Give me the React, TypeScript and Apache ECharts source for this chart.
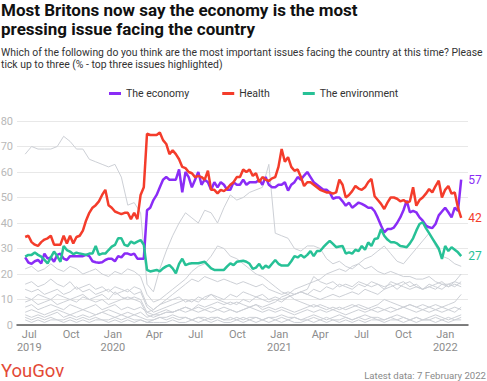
import React, { useEffect, useRef } from "react";
import * as echarts from "echarts";

// ---- Data (weekly readings, first reading 22 Jun 2019, last 7 Feb 2022) ----
const ECONOMY = [
  26.5, 24.5, 24, 25, 25.5, 24.2, 28, 26, 26.5, 24.8,
  27.5, 28, 26, 25.5, 27, 27, 27, 27, 27, 27.5,
  27, 25, 24.6, 24.4, 24.6, 25.5, 26, 26, 25, 27,
  26.5, 28, 28, 27.5, 28, 26, 26, 26, 45, 46,
  49, 51, 54, 57, 58, 57, 57, 57, 61, 52,
  60, 58, 54, 57, 60, 55, 57, 56, 53, 56,
  54, 56, 55, 53, 53, 56, 55, 55, 57, 55,
  56, 56, 56, 57, 55, 58, 55, 54, 54, 55,
  55, 56, 52.7, 55, 56, 58, 57, 58.6, 60, 58,
  56, 55, 54, 53, 53, 52, 49.5, 50, 50, 48.5,
  46.8, 48, 46, 47, 48, 47.5, 46.8, 46, 46, 44.6,
  42, 39, 36.3, 37.6, 37.6, 38.2, 40, 42.2, 45, 48.8,
  44.2, 44.8, 44.2, 42.2, 40.9, 39, 38.3, 38, 39.6, 43,
  44.5, 46, 44.2, 42.2, 46, 44.8, 57,
];
const HEALTH = [
  34.5, 35, 32.5, 31.5, 31, 32.5, 33.5, 34, 35, 31.5,
  31.5, 31.5, 35, 32, 35, 32, 34.5, 35, 37, 41,
  44, 46, 47, 48.5, 51, 53, 47, 46, 44.5, 44,
  43.5, 44, 44, 41.5, 44, 41.5, 51, 54, 75, 74.5,
  74.5, 74.5, 75.5, 72.5, 71, 67, 68.5, 67, 65, 62,
  61.5, 60, 59.5, 58, 58.5, 58, 57, 60.5, 53, 53,
  51.6, 53, 52.5, 53.5, 55, 56, 58, 58, 61, 60,
  61, 58.5, 59.5, 56, 58, 57, 56.5, 57.5, 58, 62,
  69, 64, 65.8, 62, 60.5, 61, 58, 54.5, 56, 56,
  55, 54, 53, 52.5, 52, 52, 51.5, 52, 57, 55,
  50, 51, 52.5, 54.5, 53.5, 53, 54, 56, 57.3, 50.5,
  49, 47.5, 45.5, 48, 50, 50, 49.5, 48.5, 49, 48,
  48.5, 54, 46.8, 49, 50, 51.5, 53.3, 52, 54.5, 56.6,
  50, 53, 54.5, 51.5, 52, 46, 42,
];
const ENVIRONMENT = [
  26.8, 27.5, 27.5, 28.4, 27.5, 26.8, 25.5, 24.2, 26.5, 28.8,
  27, 24.8, 31, 29.4, 28.8, 27.8, 28.4, 28, 27.8, 27.5,
  28, 28, 31, 27.5, 28, 28, 29.4, 30.7, 31.4, 34,
  34, 31.4, 31, 32.7, 32, 32.7, 33.3, 31.5, 21.6, 21,
  21.3, 21.6, 21, 22.2, 23, 23.5, 22.2, 20.3, 24, 26,
  23.5, 24, 24.2, 24.2, 24.2, 24.5, 24.8, 23.5, 22.2, 21.6,
  21.6, 21.6, 21.6, 23, 24.2, 23.5, 24.8, 25, 25.2, 24.8,
  24, 22, 22.5, 24, 22, 23.3, 22.5, 24, 25.5, 24,
  23.3, 23.3, 23.3, 25, 27, 26.5, 27.5, 26.5, 27.5, 29,
  27, 29, 29, 30.5, 31.8, 33, 31.8, 30.5, 30.8, 31,
  28, 28.5, 28, 29.5, 29, 31, 29.5, 32.4, 31, 33.7,
  34, 37.6, 35, 33.5, 32.5, 32.5, 32, 31, 30.8, 30.5,
  32, 34, 37, 39.6, 40.3, 38, 36, 34, 32, 30,
  25.9, 31, 29, 30.5, 29.5, 28.5, 27,
];

// Other issues (fortnightly readings)
const BREXIT = [67, 70, 69, 69, 69, 70, 74, 72, 69, 69, 65, 64, 63, 62, 63, 58, 47, 48, 44, 16, 13, 22, 29, 35, 40, 44, 42, 40, 45, 44, 40, 46, 51, 49, 50, 52, 53, 54, 63, 36, 35, 34, 30, 29, 31, 31, 30, 26, 24, 25, 23, 22, 24, 22, 23, 21, 20, 21, 20, 19, 19, 18, 18, 19, 17, 16, 16, 17, 16];
const IMMIGRATION = [22, 23, 21, 22, 24, 22, 21, 23, 22, 20, 21, 22, 20, 19, 21, 20, 22, 21, 19, 12, 9, 10, 12, 14, 16, 18, 21, 23, 24, 27, 31, 30, 27, 26, 24, 22, 20, 19, 17, 15, 13, 12, 14, 15, 16, 17, 18, 20, 21, 22, 21, 23, 24, 26, 27, 29, 31, 28, 25, 24, 27, 30, 33, 36, 31, 27, 26, 24, 23];
const CRIME = [16, 17, 15, 16, 18, 16, 15, 17, 14, 15, 16, 14, 15, 13, 15, 14, 13, 15, 14, 8, 6, 8, 10, 12, 14, 16, 18, 17, 19, 18, 17, 18, 17, 16, 17, 16, 15, 16, 14, 13, 12, 13, 12, 13, 14, 19, 17, 16, 17, 15, 16, 15, 17, 16, 15, 16, 15, 16, 14, 16, 17, 15, 14, 16, 15, 14, 16, 15, 17];
const HOUSING = [14, 13, 14, 12, 13, 14, 12, 13, 15, 13, 14, 12, 13, 14, 12, 13, 14, 12, 13, 7, 5, 6, 7, 8, 9, 10, 9, 11, 10, 12, 11, 10, 12, 11, 13, 12, 11, 12, 10, 11, 10, 11, 12, 13, 12, 14, 13, 15, 14, 16, 15, 14, 16, 15, 17, 16, 14, 15, 16, 17, 15, 16, 14, 15, 16, 17, 15, 16, 15];
const TAX = [9, 10, 8, 9, 10, 8, 9, 10, 9, 11, 10, 9, 10, 8, 9, 10, 11, 10, 9, 4, 3, 4, 5, 5, 6, 7, 6, 8, 7, 8, 9, 8, 9, 8, 10, 9, 11, 10, 9, 10, 9, 11, 12, 13, 12, 11, 10, 11, 12, 11, 12, 13, 12, 14, 13, 12, 14, 17, 16, 15, 14, 15, 14, 15, 14, 16, 15, 17, 20];
const DEFENCE = [11, 10, 12, 11, 10, 12, 11, 10, 11, 12, 10, 11, 12, 10, 13, 11, 10, 11, 10, 5, 4, 4, 5, 5, 6, 5, 6, 7, 6, 5, 6, 7, 6, 5, 6, 7, 8, 6, 7, 6, 7, 6, 5, 6, 7, 8, 7, 6, 7, 6, 7, 8, 7, 6, 7, 8, 10, 9, 8, 7, 8, 7, 8, 7, 8, 7, 8, 9, 12];
const EDUCATION = [7, 8, 6, 7, 8, 7, 6, 8, 7, 6, 7, 8, 6, 7, 8, 6, 7, 6, 7, 5, 6, 8, 9, 10, 11, 9, 10, 9, 11, 12, 10, 9, 8, 9, 8, 7, 8, 7, 8, 9, 11, 12, 10, 9, 8, 7, 8, 7, 6, 7, 6, 7, 8, 7, 6, 7, 6, 7, 6, 7, 6, 5, 6, 7, 6, 5, 6, 7, 6];
const WELFARE = [5, 6, 5, 4, 5, 6, 5, 4, 5, 6, 5, 4, 5, 6, 5, 4, 5, 4, 5, 3, 4, 5, 6, 5, 6, 7, 6, 5, 6, 7, 6, 5, 6, 5, 6, 7, 6, 5, 6, 5, 6, 5, 4, 5, 6, 5, 6, 5, 6, 5, 4, 5, 6, 5, 6, 5, 6, 5, 6, 7, 8, 7, 6, 5, 6, 7, 6, 5, 7];
const PENSIONS = [4, 3, 4, 3, 4, 5, 3, 4, 3, 4, 3, 4, 5, 4, 3, 4, 3, 4, 3, 2, 2, 3, 2, 3, 2, 3, 2, 3, 2, 3, 3, 2, 3, 2, 3, 2, 3, 2, 3, 2, 3, 2, 3, 2, 3, 4, 3, 2, 3, 4, 3, 2, 3, 4, 3, 3, 2, 3, 4, 3, 2, 3, 2, 3, 4, 3, 2, 3, 4];
const FAMILY = [3, 2, 3, 2, 3, 2, 2, 3, 2, 3, 2, 3, 2, 2, 3, 2, 3, 2, 2, 1, 2, 3, 3, 4, 3, 3, 2, 3, 3, 2, 3, 2, 2, 3, 2, 3, 3, 2, 3, 3, 4, 3, 3, 2, 2, 3, 2, 3, 2, 2, 3, 2, 3, 2, 3, 2, 2, 3, 2, 3, 2, 3, 2, 2, 3, 2, 3, 2, 3];
const TRANSPORT = [2, 1, 2, 1, 2, 2, 1, 2, 1, 2, 1, 2, 2, 1, 2, 1, 2, 1, 2, 1, 1, 1, 1, 2, 1, 1, 2, 1, 2, 1, 2, 1, 1, 2, 1, 2, 1, 2, 1, 2, 1, 2, 1, 1, 2, 1, 2, 1, 2, 1, 2, 1, 2, 1, 2, 2, 1, 2, 2, 1, 2, 1, 2, 2, 1, 2, 1, 2, 2];

const OTHER_ISSUES: [string, number[]][] = [
  ["Britain leaving the EU", BREXIT],
  ["Immigration & Asylum", IMMIGRATION],
  ["Crime", CRIME],
  ["Housing", HOUSING],
  ["Tax", TAX],
  ["Defence and security", DEFENCE],
  ["Education", EDUCATION],
  ["Welfare benefits", WELFARE],
  ["Pensions", PENSIONS],
  ["Family life & childcare", FAMILY],
  ["Transport", TRANSPORT],
];

const TICK_DATES = [
  [2019, 6], [2019, 9], [2020, 0], [2020, 3], [2020, 6], [2020, 9],
  [2021, 0], [2021, 3], [2021, 6], [2021, 9], [2022, 0],
];
const TICK_LABELS = ["Jul\n2019", "Oct", "Jan\n2020", "Apr", "Jul", "Oct", "Jan\n2021", "Apr", "Jul", "Oct", "Jan\n2022"];

const FIRST = Date.UTC(2019, 5, 22);
const LAST = Date.UTC(2022, 1, 5);
const STEP = (LAST - FIRST) / (ECONOMY.length - 1);

const toPoints = (vals: number[], stride: number) => vals.map((v, j) => [FIRST + j * stride * STEP, v]);

const FONT = "Roboto, 'Noto Sans', sans-serif";
const PURPLE = "#8a2cf6";
const RED = "#f43c2b";
const GREEN = "#27c196";

export default function App() {
  const ref = useRef<HTMLDivElement>(null);
  useEffect(() => {
    if (!ref.current) return;
    const chart = echarts.init(ref.current, undefined, { renderer: "svg" });
    const tickValues = TICK_DATES.map(([y, m]) => Date.UTC(y, m, 1));
    const grey = OTHER_ISSUES.map(([name, vals]) => ({
      name,
      type: "line",
      data: toPoints(vals, 2),
      symbol: "none",
      silent: true,
      z: 1,
      lineStyle: { color: "#cdd0d6", width: 1 },
    }));
    const main = [
      ["The economy", ECONOMY, PURPLE],
      ["Health", HEALTH, RED],
      ["The environment", ENVIRONMENT, GREEN],
    ].map(([name, vals, color]: any) => ({
      name,
      type: "line",
      data: toPoints(vals, 1),
      symbol: "none",
      z: 3,
      itemStyle: { color },
      lineStyle: { color, width: 2.5 },
      endLabel: {
        show: true,
        distance: 7,
        color,
        fontFamily: FONT,
        fontSize: 12,
        formatter: (p: any) => String(Math.round(p.value[1])),
      },
    }));
    chart.setOption({
      animation: false,
      backgroundColor: "#ffffff",
      textStyle: { fontFamily: FONT },
      graphic: [
        {
          type: "text",
          left: 1,
          top: 0,
          style: {
            text: "Most Britons now say the economy is the most\npressing issue facing the country",
            font: `bold 17px ${FONT}`,
            lineHeight: 19,
            fill: "#111111",
          },
        },
        {
          type: "text",
          left: 1,
          top: 46,
          style: {
            text: "Which of the following do you think are the most important issues facing the country at this time? Please\ntick up to three (% - top three issues highlighted)",
            font: `10.4px ${FONT}`,
            lineHeight: 12.5,
            fill: "#333333",
          },
        },
        {
          type: "text",
          left: 1,
          top: 361,
          style: { text: "YouGov", font: `18.5px ${FONT}`, fill: "#e34a37" },
        },
        {
          type: "text",
          right: 1,
          top: 370,
          style: { text: "Latest data: 7 February 2022", font: `9.6px ${FONT}`, fill: "#8a8a8a" },
        },
      ],
      legend: {
        data: ["The economy", "Health", "The environment"],
        left: 109,
        top: 88,
        padding: 0,
        icon: "rect",
        itemWidth: 12,
        itemHeight: 3,
        itemGap: 33,
        textStyle: { fontFamily: FONT, fontSize: 10.5, color: "#333333" },
      },
      grid: { left: 17, right: 19, top: 121, bottom: 56, outerBoundsMode: "none", containLabel: false },
      xAxis: {
        type: "value",
        min: Date.UTC(2019, 5, 4),
        max: Date.UTC(2022, 1, 20),
        axisLine: { show: true, lineStyle: { color: "#555555", width: 1.5 } },
        axisTick: { show: false },
        splitLine: { show: false },
        axisLabel: {
          customValues: tickValues,
          color: "#8c8c8c",
          fontFamily: FONT,
          fontSize: 11,
          lineHeight: 13,
          margin: 3,
          hideOverlap: false,
          formatter: (v: number) => {
            let best = 0;
            tickValues.forEach((t, i) => {
              if (Math.abs(t - v) < Math.abs(tickValues[best] - v)) best = i;
            });
            return TICK_LABELS[best];
          },
        },
      },
      yAxis: {
        type: "value",
        min: 0,
        max: 80,
        interval: 10,
        axisLine: { show: false },
        axisTick: { show: false },
        splitLine: { lineStyle: { color: "#e8e8e8", width: 1 } },
        axisLabel: { color: "#b8b8b8", fontFamily: FONT, fontSize: 11, margin: 4 },
      },
      series: [...grey, ...main],
    });
    return () => chart.dispose();
  }, []);
  return <div ref={ref} style={{ position: "fixed", left: 0, top: 0, width: 487, height: 381 }} />;
}
